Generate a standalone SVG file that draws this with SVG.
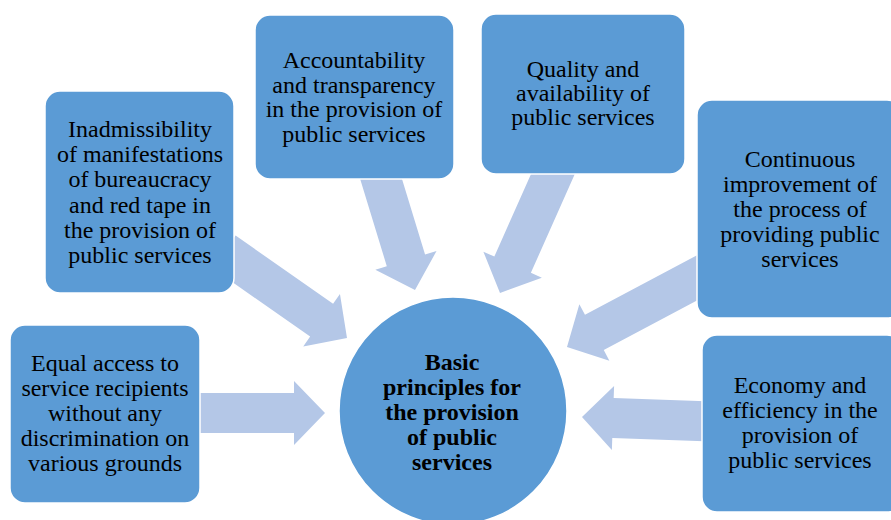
<svg xmlns="http://www.w3.org/2000/svg" width="891" height="520" viewBox="0 0 891 520">
<style>
.box{fill:#5b9bd5;stroke:#ffffff;stroke-width:1.5}
.arr{fill:#b4c7e7}
.t{font-family:"Liberation Serif","Times New Roman",serif;font-size:24px;fill:#000;text-anchor:middle}
.b{font-weight:bold}
</style>
<defs>
<polygon id="a150" points="-150,-20 -31,-20 -31,-32 0,0 -31,32 -31,20 -150,20"/>
<polygon id="a130" points="-130,-20 -31,-20 -31,-32 0,0 -31,32 -31,20 -130,20"/>
<polygon id="a160" points="-160,-20 -31,-20 -31,-32 0,0 -31,32 -31,20 -160,20"/>
</defs>
<rect width="891" height="520" fill="#ffffff"/>
<g id="connectors" class="arr">
<use href="#a150" transform="translate(347,338) rotate(35)"/>
<use href="#a130" transform="translate(415,290) rotate(73)"/>
<use href="#a150" transform="translate(500,293) rotate(114)"/>
<use href="#a160" transform="translate(567,347) rotate(152)"/>
<use href="#a130" transform="translate(582,417) rotate(182)"/>
<use href="#a130" transform="translate(325,413)"/>
</g>
<g id="node-bureaucracy">
<rect class="box" x="45" y="91" width="189" height="202" rx="15"/>
<text class="t"><tspan x="140" y="137">Inadmissibility</tspan><tspan x="140" y="162">of manifestations</tspan><tspan x="140" y="187">of bureaucracy</tspan><tspan x="140" y="213">and red tape in</tspan><tspan x="140" y="238">the provision of</tspan><tspan x="140" y="263">public services</tspan></text>
</g>
<g id="node-accountability">
<rect class="box" x="255" y="15" width="199" height="164" rx="15"/>
<text class="t"><tspan x="354" y="68">Accountability</tspan><tspan x="354" y="93">and transparency</tspan><tspan x="354" y="117">in the provision of</tspan><tspan x="354" y="142">public services</tspan></text>
</g>
<g id="node-quality">
<rect class="box" x="481" y="14" width="204" height="160" rx="15"/>
<text class="t"><tspan x="583" y="77">Quality and</tspan><tspan x="583" y="101">availability of</tspan><tspan x="583" y="125">public services</tspan></text>
</g>
<g id="node-improvement">
<rect class="box" x="697" y="100" width="205" height="218" rx="15"/>
<text class="t"><tspan x="800" y="167">Continuous</tspan><tspan x="800" y="192">improvement of</tspan><tspan x="800" y="217">the process of</tspan><tspan x="800" y="242">providing public</tspan><tspan x="800" y="267">services</tspan></text>
</g>
<g id="node-economy">
<rect class="box" x="702" y="335" width="200" height="177" rx="15"/>
<text class="t"><tspan x="800" y="393">Economy and</tspan><tspan x="800" y="418">efficiency in the</tspan><tspan x="800" y="443">provision of</tspan><tspan x="800" y="468">public services</tspan></text>
</g>
<g id="node-equal">
<rect class="box" x="10" y="325" width="190" height="178" rx="15"/>
<text class="t"><tspan x="105" y="371">Equal access to</tspan><tspan x="105" y="396">service recipients</tspan><tspan x="105" y="421">without any</tspan><tspan x="105" y="446">discrimination on</tspan><tspan x="105" y="471">various grounds</tspan></text>
</g>
<g id="node-center">
<circle class="box" cx="453" cy="411" r="114"/>
<text class="t b"><tspan x="452" y="370">Basic</tspan><tspan x="452" y="395">principles for</tspan><tspan x="452" y="420">the provision</tspan><tspan x="452" y="445">of public</tspan><tspan x="452" y="470">services</tspan></text>
</g>
</svg>
